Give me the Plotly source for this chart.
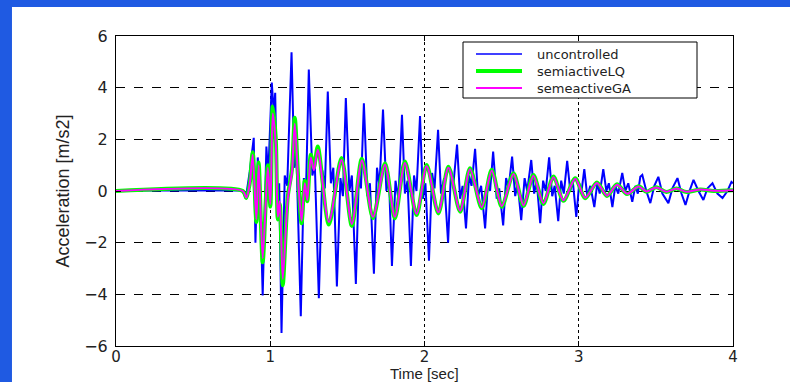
import plotly.graph_objects as go

# ---- data ----
t_unc = [0.0, 0.821, 0.841, 0.867, 0.893, 0.904, 0.919, 0.932, 0.951, 0.975, 0.987,
         1.010, 1.023, 1.032, 1.047, 1.058, 1.073, 1.094, 1.110, 1.138, 1.156, 1.169,
         1.198, 1.218, 1.231, 1.250, 1.273, 1.289, 1.315, 1.338, 1.354, 1.373, 1.393,
         1.409, 1.432, 1.455, 1.471, 1.490, 1.513, 1.529, 1.555, 1.575, 1.588, 1.607,
         1.630, 1.646, 1.672, 1.692, 1.708, 1.731, 1.753, 1.769, 1.789, 1.812, 1.831,
         1.854, 1.873, 1.890, 1.912, 1.932, 1.948, 1.971, 1.990, 2.006, 2.029, 2.049,
         2.065, 2.088, 2.107, 2.127, 2.153, 2.172, 2.188, 2.211, 2.231, 2.247, 2.269,
         2.289, 2.305, 2.328, 2.347, 2.367, 2.393, 2.412, 2.425, 2.445, 2.468, 2.484,
         2.510, 2.529, 2.545, 2.568, 2.588, 2.604, 2.627, 2.649, 2.666, 2.692, 2.711,
         2.727, 2.750, 2.769, 2.786, 2.808, 2.828, 2.844, 2.867, 2.886, 2.903, 2.925,
         2.945, 2.961, 2.984, 3.003, 3.016, 3.036, 3.055, 3.075, 3.101, 3.120, 3.136,
         3.159, 3.179, 3.195, 3.218, 3.237, 3.256, 3.282, 3.302, 3.321, 3.347, 3.367,
         3.383, 3.399, 3.412, 3.438, 3.464, 3.490, 3.516, 3.542, 3.581, 3.607, 3.640,
         3.666, 3.692, 3.718, 3.744, 3.776, 3.808, 3.834, 3.867, 3.899, 3.932, 3.964,
         3.990, 4.000]
a_unc = [0.02, 0.02, -0.3, 0.75, 2.06, -2.0, 1.3, 0.3, -4.04, 1.72, 0.6,
         4.2, 3.0, 3.8, -1.1, 0.3, -5.5, 0.6, 0.2, 5.37, 0.9, 1.5,
         -4.85, 0.5, -0.2, 4.7, 0.6, 1.0, -4.15, 0.8, 0.1, 3.85, 0.3,
         0.9, -3.7, 0.5, -0.2, 3.6, 0.0, 0.6, -3.6, 0.7, 0.1, 3.4,
         -0.2, 0.3, -3.2, 0.9, 0.2, 3.15, 0.0, 0.6, -2.9, 0.4, -0.3,
         2.95, -0.1, 0.4, -2.9, 0.6, 0.0, 2.9, -0.3, 0.3, -2.7, 0.7,
         0.1, 2.37, -0.1, 0.5, -2.0, 0.8, 0.3, 1.8, -0.3, 0.2, -1.45,
         0.6, 0.2, 1.63, -0.2, 0.2, -1.45, 0.4, 0.0, 1.53, -0.3, 0.1,
         -1.33, 0.5, 0.1, 1.33, -0.2, 0.3, -1.13, 0.5, 0.0, 1.2, -0.1,
         0.4, -1.25, 0.4, 0.0, 1.3, -0.2, 0.2, -1.17, 0.4, -0.1, 1.17,
         0.0, 0.4, -1.0, 0.3, -0.1, 0.85, -0.2, 0.2, -0.62, 0.3, -0.1,
         0.85, 0.0, 0.3, -0.62, 0.2, -0.1, 0.7, 0.0, 0.3, -0.42, 0.2,
         -0.1, 0.55, 0.62, 0.0, -0.47, 0.2, 0.55, -0.1, -0.47, 0.1, 0.5,
         -0.1, -0.54, 0.0, 0.43, 0.0, -0.35, 0.1, 0.3, -0.1, -0.27, 0.0,
         0.35, 0.3]

t_ctrl = [0.0, 0.821, 0.845, 0.867, 0.886, 0.910, 0.925, 0.951, 0.984, 1.001,
          1.016, 1.036, 1.049, 1.062, 1.081, 1.114, 1.140, 1.159, 1.182, 1.203,
          1.224, 1.240, 1.263, 1.283, 1.308, 1.380, 1.462, 1.529, 1.594, 1.666,
          1.744, 1.808, 1.873, 1.949, 2.014, 2.090, 2.155, 2.231, 2.295, 2.371,
          2.436, 2.501, 2.577, 2.642, 2.706, 2.771, 2.836, 2.901, 2.977, 3.042,
          3.118, 3.183, 3.248, 3.313, 3.388, 3.438, 3.503, 3.568, 3.633, 3.698,
          3.789, 3.873, 4.000]
a_lq = [0.0, 0.0, -0.27, 0.3, 1.5, -1.2, 1.1, -2.76, 1.0, -0.6,
        3.27, 2.0, -1.1, -0.5, -3.65, -0.2, 0.8, 2.84, 0.4, -1.25,
        0.4, -0.4, 1.4, 0.9, 1.72, -1.3, 1.28, -1.35, 1.25, -1.05,
        1.07, -1.06, 1.14, -0.93, 1.01, -0.87, 0.94, -0.8, 0.88, -0.67,
        0.82, -0.61, 0.69, -0.58, 0.62, -0.5, 0.56, -0.38, 0.49, -0.28,
        0.33, -0.19, 0.26, -0.12, 0.18, -0.03, 0.15, -0.04, 0.1, -0.04,
        0.06, 0.0, 0.03]
a_ga = [0.0, 0.0, -0.25, 0.28, 1.4, -1.1, 1.0, -2.6, 0.9, -0.5,
        3.0, 1.8, -1.0, -0.4, -3.4, -0.3, 0.7, 2.6, 0.3, -1.15,
        0.3, -0.35, 1.3, 0.8, 1.6, -1.2, 1.2, -1.28, 1.18, -1.0,
        1.02, -1.0, 1.08, -0.88, 0.96, -0.82, 0.9, -0.76, 0.84, -0.63,
        0.78, -0.58, 0.66, -0.55, 0.59, -0.47, 0.53, -0.36, 0.47, -0.26,
        0.31, -0.18, 0.24, -0.11, 0.17, -0.02, 0.14, -0.03, 0.1, -0.03,
        0.06, 0.01, 0.03]

series_names = ["uncontrolled", "semiactiveLQ", "semeactiveGA"]
series_colors = ["#0000ff", "#00ff00", "#ff00ff"]
x_ticks = [0, 1, 2, 3, 4]
y_ticks = [-6, -4, -2, 0, 2, 4, 6]

fig = go.Figure()
fig.add_trace(go.Scatter(x=t_unc, y=a_unc, mode="lines", name=series_names[0],
                         showlegend=False,
                         line=dict(color=series_colors[0], width=2)))
fig.add_trace(go.Scatter(x=t_ctrl, y=a_lq, mode="lines", name=series_names[1],
                         showlegend=False,
                         line=dict(color=series_colors[1], width=4, shape="spline", smoothing=0.8)))
fig.add_trace(go.Scatter(x=t_ctrl, y=a_ga, mode="lines", name=series_names[2],
                         showlegend=False,
                         line=dict(color=series_colors[2], width=2, shape="spline", smoothing=0.8)))

axis_common = dict(showline=True, linecolor="black", linewidth=1, mirror="ticks",
                   ticks="inside", ticklen=5, tickcolor="black", automargin=False,
                   showgrid=True, gridcolor="black", gridwidth=1, zeroline=False,
                   tickfont=dict(family="DejaVu Sans", size=16, color="#222"))

fig.update_xaxes(range=[0, 4], tickvals=x_ticks, griddash="dot", **axis_common)
fig.update_xaxes(tickfont=dict(size=15), ticklabelstandoff=-3)
fig.update_yaxes(range=[-6, 6], tickvals=y_ticks, griddash="dash",
                 ticklabelstandoff=4,
                 title=dict(text="Acceleration [m/s2]", standoff=9,
                            font=dict(family="Liberation Sans", size=18, color="#222")),
                 **axis_common)

# positions in paper coordinates (plot area: x 116..733 px, y 36..346 px)
def px(x):
    return (x - 116) / 617

def py(y):
    return (346 - y) / 310

shapes = [dict(type="rect", xref="paper", yref="paper", layer="below",
               x0=-0.1686, x1=1.2, y0=-0.3, y1=1.0935,
               fillcolor="white", line=dict(width=0)),
          dict(type="rect", xref="paper", yref="paper", layer="above",
               x0=px(463), x1=px(697), y0=py(98), y1=py(42),
               fillcolor="white", line=dict(color="black", width=1))]
annotations = [dict(text="Time [sec]", xref="paper", yref="paper",
                    x=0.5, y=py(383), xanchor="center", yanchor="bottom",
                    showarrow=False, borderpad=0,
                    font=dict(family="Liberation Sans", size=15, color="#222"))]
row_y = [54, 71, 88]
row_w = [1.5, 4, 2]
for name, col, yy, w in zip(series_names, series_colors, row_y, row_w):
    shapes.append(dict(type="line", xref="paper", yref="paper", layer="above",
                       x0=px(476), x1=px(522), y0=py(yy), y1=py(yy),
                       line=dict(color=col, width=w)))
    annotations.append(dict(text=name, xref="paper", yref="paper",
                            x=px(536), y=py(yy), xanchor="left", yanchor="middle",
                            showarrow=False, borderpad=0,
                            font=dict(family="DejaVu Sans", size=13, color="#222")))

fig.update_layout(
    width=790, height=382,
    margin=dict(l=116, r=57, t=36, b=36),
    paper_bgcolor="#1f5ae2",
    plot_bgcolor="white",
    showlegend=False,
    shapes=shapes,
    annotations=annotations,
)

fig.write_html("out.html")
